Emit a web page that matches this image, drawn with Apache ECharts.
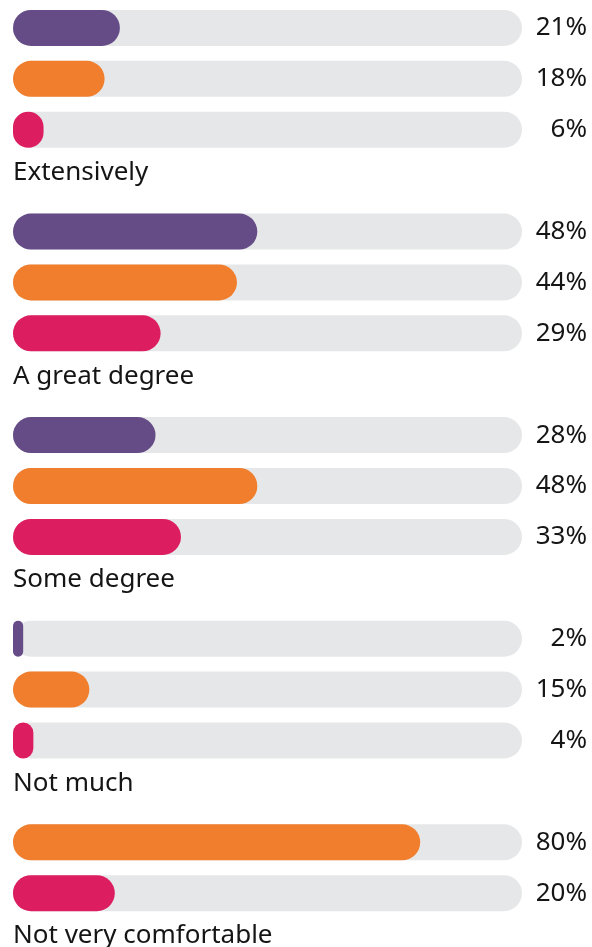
<!DOCTYPE html>
<html>
<head>
<meta charset="utf-8">
<script src="https://cdn.jsdelivr.net/npm/echarts@6/dist/echarts.min.js"></script>
<style>
  html, body { margin: 0; padding: 0; background: #ffffff; }
  #chart { width: 592px; height: 947px; }
</style>
</head>
<body>
<div id="chart"></div>
<script>
// Response groups, each shown as a label under its bars
const categories = ["Extensively", "A great degree", "Some degree", "Not much", "Not very comfortable"];

// Share of respondents (%) per group; null means no bar in that group
const purpleValues = [21, 48, 28, 2, null];
const orangeValues = [18, 44, 48, 15, 80];
const pinkValues = [6, 29, 33, 4, 20];

const COLORS = { purple: "#654c87", orange: "#f17e2c", pink: "#dc1d5f" };
const TRACK = "#e6e7e8";
const TEXT = "#151515";
const FONT = "'Noto Sans', 'Open Sans', sans-serif";

// Flatten into rows: bar rows followed by one caption row per group
const rows = [];
categories.forEach((cat, i) => {
  [["purple", purpleValues[i]], ["orange", orangeValues[i]], ["pink", pinkValues[i]]].forEach(([key, v]) => {
    if (v !== null && v !== undefined) rows.push({ kind: "bar", value: v, color: COLORS[key], caption: "" });
  });
  rows.push({ kind: "label", value: null, color: null, caption: cat });
});

const rowIds = rows.map((r, i) => "r" + i);

const chart = echarts.init(document.getElementById("chart"), null, { renderer: "canvas" });

chart.setOption({
  animation: false,
  backgroundColor: "#ffffff",
  // The last caption row runs past the bottom edge, so the grid is taller than the canvas
  grid: { left: 13, right: 70, top: 2.5, height: 967, containLabel: false, outerBoundsMode: "none" },
  xAxis: {
    type: "value", min: 0, max: 100,
    show: false
  },
  yAxis: [
    {
      type: "category", data: rowIds, inverse: true,
      axisLine: { show: false }, axisTick: { show: false }, splitLine: { show: false },
      axisLabel: {
        inside: true, margin: 0, align: "left",
        color: TEXT, fontFamily: FONT, fontSize: 26,
        // bottom-anchored short line box lifts each caption towards the bars above it
        verticalAlign: "bottom", lineHeight: 16,
        formatter: (v, idx) => rows[idx].caption
      }
    },
    {
      type: "category", data: rowIds, inverse: true, position: "right",
      axisLine: { show: false }, axisTick: { show: false }, splitLine: { show: false },
      axisLabel: {
        margin: 65, align: "right",
        color: TEXT, fontFamily: FONT, fontSize: 26,
        formatter: (v, idx) => rows[idx].kind === "bar" ? rows[idx].value + "%" : ""
      }
    }
  ],
  series: [
    {
      name: "track", type: "bar", yAxisIndex: 0, barWidth: 36, barGap: "-100%",
      silent: true,
      itemStyle: { color: TRACK, borderRadius: 18 },
      data: rows.map(r => r.kind === "bar" ? 100 : "-")
    },
    {
      name: "share", type: "bar", yAxisIndex: 0, barWidth: 36, barGap: "-100%",
      data: rows.map(r => r.kind === "bar"
        ? { value: r.value, itemStyle: { color: r.color, borderRadius: 18 } }
        : "-")
    }
  ]
});
</script>
</body>
</html>
